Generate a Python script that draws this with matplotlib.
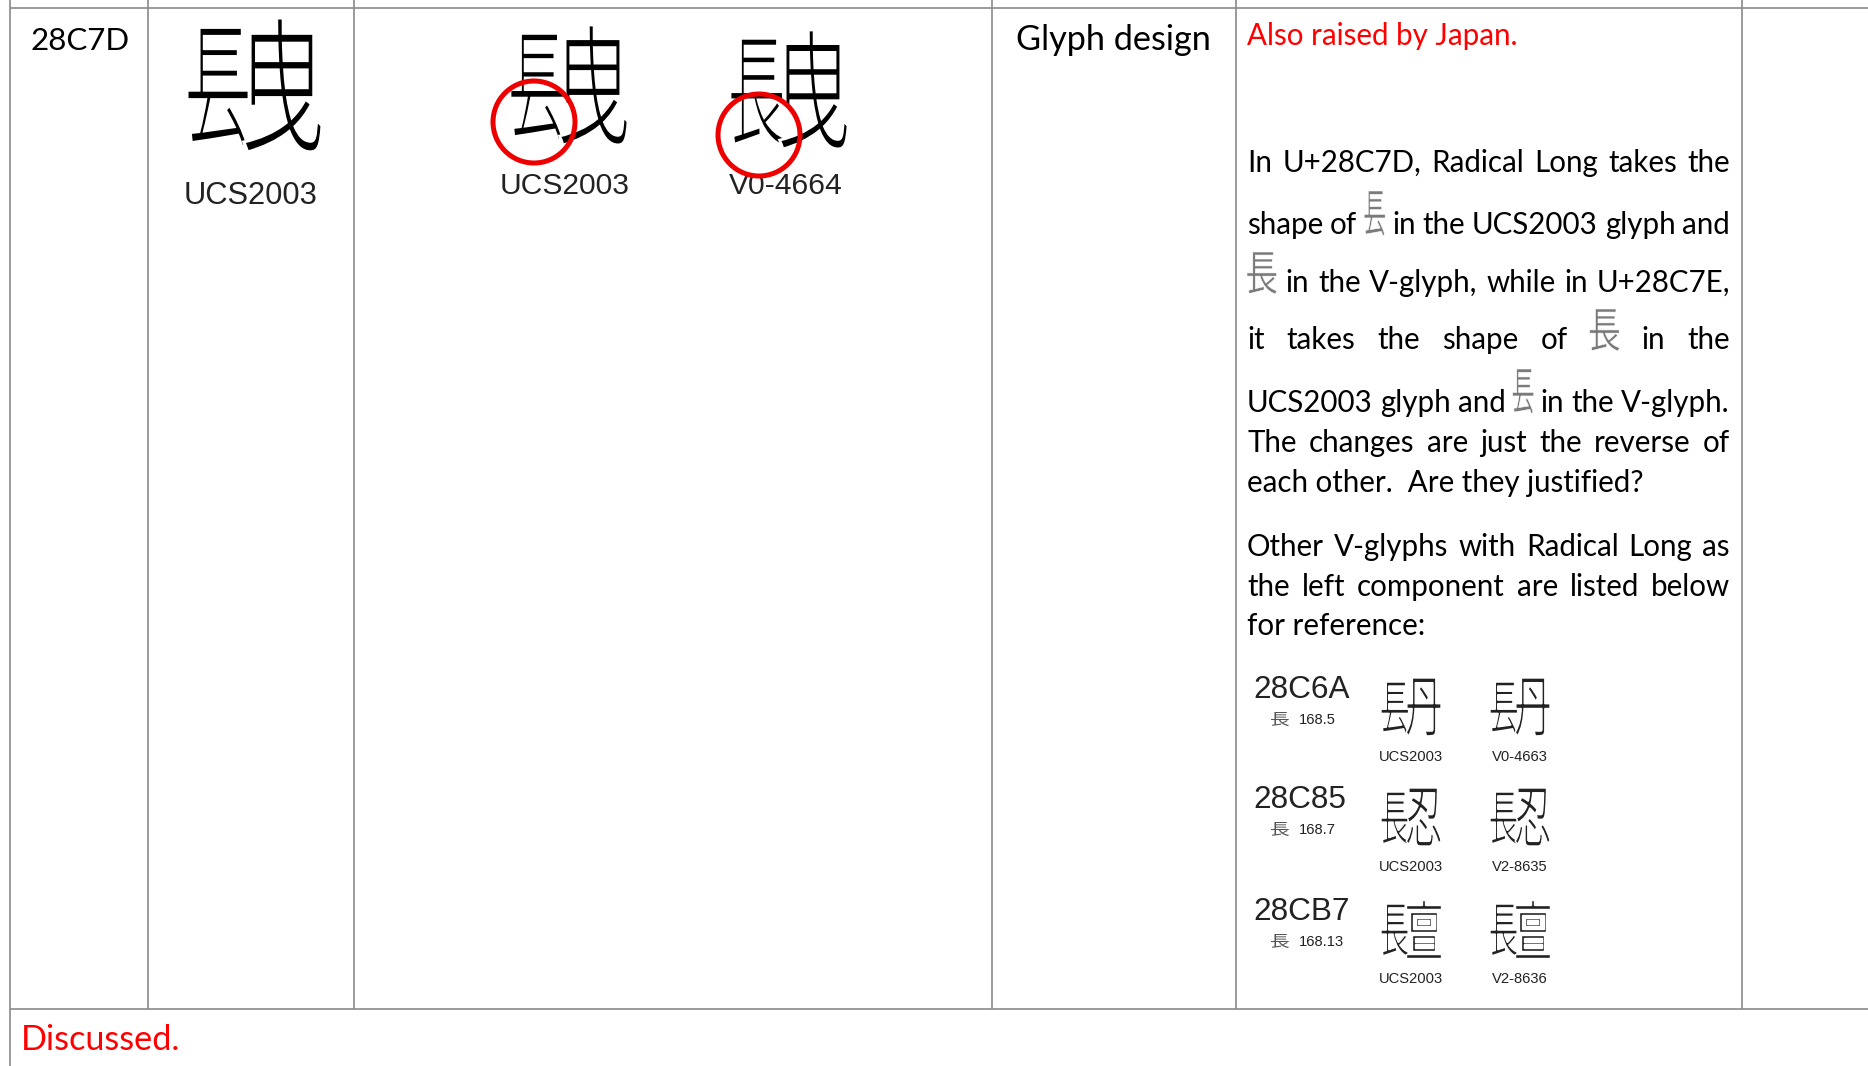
import matplotlib
matplotlib.use('Agg')
import matplotlib.pyplot as plt
from matplotlib import font_manager
from matplotlib.font_manager import FontProperties
from matplotlib.textpath import TextPath
from matplotlib.patches import PathPatch, Circle
from matplotlib.transforms import Affine2D

W, H = 1868, 1066

# ---- row content ----
code = '28C7D'
category = 'Glyph design'
note = 'Also raised by Japan.'
outcome = 'Discussed.'
main_source = 'UCS2003'
compare_sources = ['UCS2003', 'V0-4664']
compare_left = ['镸', '長']      # radical form: UCS2003 vs V-glyph
right_part = '曳'

# paragraph lines, '<A>' / '<B>' are the inline radical pictures
para1 = [
    ['In', 'U+28C7D,', 'Radical', 'Long', 'takes', 'the'],
    ['shape', 'of', '<A>', 'in', 'the', 'UCS2003', 'glyph', 'and'],
    ['<B>', 'in', 'the', 'V-glyph,', 'while', 'in', 'U+28C7E,'],
    ['it', 'takes', 'the', 'shape', 'of', '<B>', 'in', 'the'],
    ['UCS2003', 'glyph', 'and', '<A>', 'in', 'the', 'V-glyph.'],
    ['The', 'changes', 'are', 'just', 'the', 'reverse', 'of'],
    ['each other.  Are they justified?'],
]
para2 = [
    ['Other', 'V-glyphs', 'with', 'Radical', 'Long', 'as'],
    ['the', 'left', 'component', 'are', 'listed', 'below'],
    ['for reference:'],
]

# reference list
ref_codes = ['28C6A', '28C85', '28CB7']
ref_radical = ['168.5', '168.7', '168.13']
ref_left = ['镸', '長', '長']
ref_right = ['丹', '忍', '亶']
ref_ucs = ['UCS2003', 'UCS2003', 'UCS2003']
ref_v = ['V0-4663', 'V2-8635', 'V2-8636']

# ---- figure ----
fig = plt.figure(figsize=(W / 100, H / 100), dpi=100)
ax = fig.add_axes([0, 0, 1, 1])
ax.set_xlim(0, W)
ax.set_ylim(H, 0)
ax.axis('off')
renderer = fig.canvas.get_renderer()

have = {f.name for f in font_manager.fontManager.ttflist}
BODY = 'Lato' if 'Lato' in have else 'DejaVu Sans'
SANS = 'Liberation Sans'
NARROW = 'Liberation Sans Narrow' if 'Liberation Sans Narrow' in have else 'Liberation Sans'
cjk = FontProperties(family='Noto Sans CJK JP')


def width(s, size, family):
    t = ax.text(0, 0, s, fontsize=size, family=family)
    w = t.get_window_extent(renderer).width
    t.remove()
    return w


def fit(s, target, family):
    return 20 * target / width(s, 20, family)


def glyph(ch, x0, y0, x1, y1, color='black', thin=0.0):
    # squeeze a character outline into the box (y grows downward);
    # a white edge shaves the strokes to look more like the printed Ming glyphs
    p = TextPath((0, 0), ch, size=100, prop=cjk)
    e = p.get_extents()
    t = (Affine2D().translate(-e.x0, -e.y1)
         .scale((x1 - x0) / e.width, -(y1 - y0) / e.height)
         .translate(x0, y0))
    ax.add_patch(PathPatch(t.transform_path(p), fc=color,
                           ec='white' if thin else 'none', lw=thin, zorder=2))


def compound(left, right, x0, y0, x1, y1, color='black', thin=0.0,
             split=0.46, drop=0.07):
    w, h = x1 - x0, y1 - y0
    glyph(left, x0, y0 + h * drop, x0 + w * split, y1 - h * 0.03, color, thin)
    glyph(right, x0 + w * (split - 0.04), y0, x1, y1, color, thin)


# table lines
grid = dict(color='#8a8a8a', lw=1.2, solid_capstyle='butt', zorder=1)
ax.plot([10, W], [7.5, 7.5], **grid)
ax.plot([10, W], [1009, 1009], **grid)
ax.plot([10, 10], [0, H], **grid)
for x in [148, 354, 992, 1236, 1742]:
    ax.plot([x, x], [0, 1009], **grid)

# header cells
hs = fit(category, 196, BODY)
ax.text(30, 50, code, fontsize=fit(code, 99, BODY), family=BODY, va='baseline')
ax.text(1016, 50, category, fontsize=hs, family=BODY, va='baseline')
ax.text(21, 1050, outcome, fontsize=hs, family=BODY, va='baseline', color='#ff0000')

# column 2: the UCS2003 glyph
compound(compare_left[0], right_part, 187, 18, 322, 152, '#000000', thin=2.2)
ax.text(251, 204, main_source, fontsize=fit(main_source, 134, SANS), family=SANS,
        ha='center', va='baseline', color='#222222')

# column 3: UCS2003 vs V-glyph with circles
boxes = [(510, 25, 628, 145), (730, 30, 848, 149)]
label_x = [565, 786]
circles = [(534, 122), (759, 135)]
for left, box, lx, c, src in zip(compare_left, boxes, label_x, circles, compare_sources):
    compound(left, right_part, *box, color='#000000', thin=2.0)
    ax.text(lx, 194, src, fontsize=fit('UCS2003', 130, SANS), family=SANS,
            ha='center', va='baseline', color='#222222')
    ax.add_patch(Circle(c, 41, fill=False, ec='#ee0000', lw=3.6, zorder=3))

# comment column
ps = fit('each other.  Are they justified?', 398, BODY)
ax.text(1247, 45, note, fontsize=ps, family=BODY, va='baseline', color='#ff0000')

INLINE = {'<A>': ('镸', 21, 45), '<B>': ('長', 30, 42)}


def line(tokens, y, size, x0=1247, x1=1730):
    ws = [INLINE[t][1] if t in INLINE else width(t, size, BODY) for t in tokens]
    gap = (x1 - x0 - sum(ws)) / (len(tokens) - 1) if len(tokens) > 1 else 0
    x = x0
    for t, w in zip(tokens, ws):
        if t in INLINE:
            ch, gw, gh = INLINE[t]
            glyph(ch, x, y - gh + 2, x + gw, y + 2, '#7a7a7a', thin=0.4)
        else:
            ax.text(x, y, t, fontsize=size, family=BODY, va='baseline', ha='left')
        x += w + gap


for toks, y in zip(para1, [172, 234, 292, 349, 412, 452, 492]):
    line(toks, y, ps)
for toks, y in zip(para2, [556, 596, 635]):
    line(toks, y, ps)

# reference list
cs = fit('28C6A', 96, SANS)
rs = fit('168.5', 37, NARROW)
ls = fit('UCS2003', 64, NARROW)
row_top = [678, 788, 900]
for i, top in enumerate(row_top):
    ax.text(1253, top + 20, ref_codes[i], fontsize=cs, family=SANS, va='baseline',
            color='#222222')
    glyph('長', 1271, top + 34, 1289, top + 48, '#555555')
    ax.text(1299, top + 46, ref_radical[i], fontsize=rs, family=NARROW, va='baseline',
            color='#222222')
    compound(ref_left[i], ref_right[i], 1381, top, 1441, top + 58, '#222222', thin=1.0)
    compound(ref_left[i], ref_right[i], 1490, top, 1550, top + 58, '#222222', thin=1.0)
    ax.text(1411, top + 83, ref_ucs[i], fontsize=ls, family=NARROW, ha='center',
            va='baseline', color='#222222')
    ax.text(1520, top + 83, ref_v[i], fontsize=ls, family=NARROW, ha='center',
            va='baseline', color='#222222')

ax.set_xlim(0, W)
ax.set_ylim(H, 0)
fig.savefig('out.png', dpi=100)
